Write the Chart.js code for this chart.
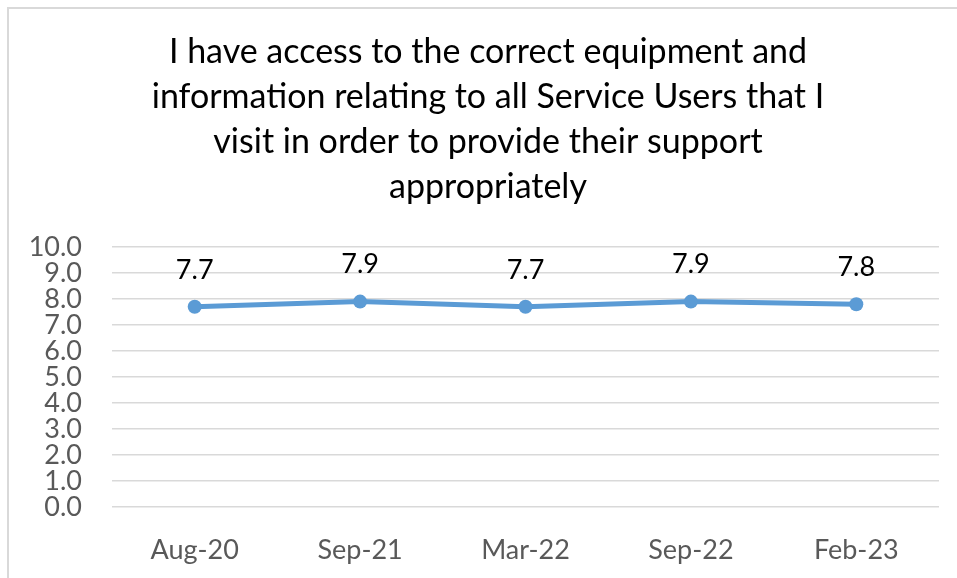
<!DOCTYPE html>
<html>
<head>
<meta charset="utf-8">
<script src="https://cdn.jsdelivr.net/npm/chart.js@4/dist/chart.umd.min.js"></script>
<style>
  html, body { margin: 0; padding: 0; background: #fff; }
  #wrap { position: relative; width: 957px; height: 578px; overflow: hidden; }
  #frame { position: absolute; left: 7px; top: 7px; width: 1000px; height: 1000px;
           border-left: 2px solid #d9d9d9; border-top: 2px solid #d9d9d9; box-sizing: border-box; }
  canvas { position: absolute; left: 0; top: 0; }
</style>
</head>
<body>
<div id="wrap">
  <div id="frame"></div>
  <canvas id="c" width="957" height="578"></canvas>
</div>
<script>
const titleLines = [
  "I have access to the correct equipment and",
  "information relating to all Service Users that I",
  "visit in order to provide their support",
  "appropriately"
];
const categories = ["Aug-20", "Sep-21", "Mar-22", "Sep-22", "Feb-23"];
const scores = [7.7, 7.9, 7.7, 7.9, 7.8];
const yMin = 0, yMax = 10, yStep = 1;

const FONT = "Lato, 'Open Sans', sans-serif";

const valueLabels = {
  id: 'valueLabels',
  afterDatasetsDraw(chart) {
    const ctx = chart.ctx;
    const meta = chart.getDatasetMeta(0);
    ctx.save();
    ctx.fillStyle = '#000';
    ctx.font = "27px " + FONT;
    ctx.textAlign = 'center';
    ctx.textBaseline = 'middle';
    meta.data.forEach((pt, i) => {
      ctx.fillText(scores[i].toFixed(1), pt.x, pt.y - 37);
    });
    ctx.restore();
  }
};

// shift the title block so that it is centred like the original
const titleShift = {
  id: 'titleShift',
  afterLayout(chart) {
    if (chart.titleBlock) chart.titleBlock.left += 37;
  }
};

new Chart(document.getElementById('c'), {
  type: 'line',
  data: {
    labels: categories,
    datasets: [{
      data: scores,
      borderColor: '#5B9BD5',
      backgroundColor: '#5B9BD5',
      borderWidth: 5,
      pointRadius: 7,
      pointHoverRadius: 7,
      pointBackgroundColor: '#5B9BD5',
      pointBorderWidth: 0,
      tension: 0,
      fill: false
    }]
  },
  options: {
    responsive: false,
    animation: false,
    devicePixelRatio: 1,
    layout: { padding: { left: 0, right: 18, top: 0, bottom: 0 } },
    plugins: {
      legend: { display: false },
      tooltip: { enabled: false },
      title: {
        display: true,
        text: titleLines,
        color: '#000',
        font: { family: FONT, size: 34, weight: 'normal', lineHeight: 45 / 34 },
        padding: { top: 30, bottom: 37 }
      }
    },
    scales: {
      x: {
        offset: true,
        grid: { display: false, drawTicks: false },
        border: { display: false },
        ticks: { color: '#595959', font: { family: FONT, size: 27 }, padding: 27, maxRotation: 0 },
        afterFit(s) { s.height = 71; }
      },
      y: {
        min: yMin, max: yMax,
        grid: { color: '#d9d9d9', lineWidth: 1.5, drawTicks: false },
        border: { display: false },
        ticks: { stepSize: yStep, autoSkip: false, color: '#595959', font: { family: FONT, size: 27, lineHeight: 1 }, padding: 30,
                 callback: v => Number(v).toFixed(1) },
        afterFit(s) { s.width = 112; }
      }
    }
  },
  plugins: [valueLabels, titleShift]
});
</script>
</body>
</html>
